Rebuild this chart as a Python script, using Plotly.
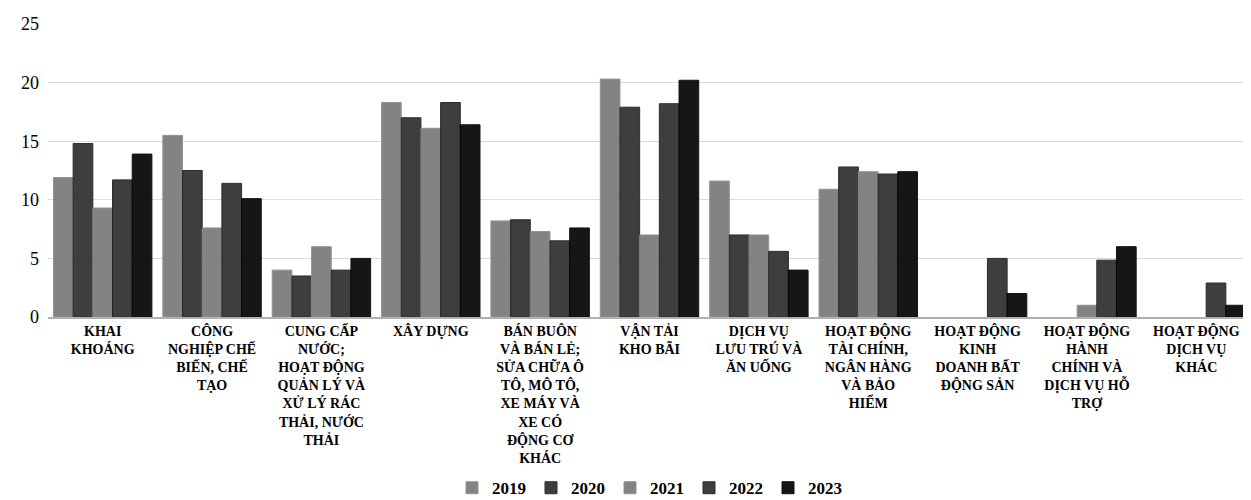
import plotly.graph_objects as go

categories = [
    "KHAI<br>KHOÁNG",
    "CÔNG<br>NGHIỆP CHẾ<br>BIẾN, CHẾ<br>TẠO",
    "CUNG CẤP<br>NƯỚC;<br>HOẠT ĐỘNG<br>QUẢN LÝ VÀ<br>XỬ LÝ RÁC<br>THẢI, NƯỚC<br>THẢI",
    "XÂY DỰNG",
    "BÁN BUÔN<br>VÀ BÁN LẺ;<br>SỬA CHỮA Ô<br>TÔ, MÔ TÔ,<br>XE MÁY VÀ<br>XE CÓ<br>ĐỘNG CƠ<br>KHÁC",
    "VẬN TẢI<br>KHO BÃI",
    "DỊCH VỤ<br>LƯU TRÚ VÀ<br>ĂN UỐNG",
    "HOẠT ĐỘNG<br>TÀI CHÍNH,<br>NGÂN HÀNG<br>VÀ BẢO<br>HIỂM",
    "HOẠT ĐỘNG<br>KINH<br>DOANH BẤT<br>ĐỘNG SẢN",
    "HOẠT ĐỘNG<br>HÀNH<br>CHÍNH VÀ<br>DỊCH VỤ HỖ<br>TRỢ",
    "HOẠT ĐỘNG<br>DỊCH VỤ<br>KHÁC",
]

years = ["2019", "2020", "2021", "2022", "2023"]

v2019 = [11.9, 15.5, 4.0, 18.3, 8.2, 20.3, 11.6, 10.9, None, None, None]
v2020 = [14.8, 12.5, 3.5, 17.0, 8.3, 17.9, 7.0, 12.8, None, None, None]
v2021 = [9.3, 7.6, 6.0, 16.1, 7.3, 7.0, 7.0, 12.4, None, 1.0, None]
v2022 = [11.7, 11.4, 4.0, 18.3, 6.5, 18.2, 5.6, 12.2, 5.0, 4.85, 2.9]
v2023 = [13.9, 10.1, 5.0, 16.4, 7.6, 20.2, 4.0, 12.4, 2.0, 6.0, 1.0]

series = [v2019, v2020, v2021, v2022, v2023]
colors = ["#7a7a7a", "#303030", "#7a7a7a", "#303030", "#050505"]
line_colors = ["#8c8c8c", "#1e1e1e", "#8c8c8c", "#1e1e1e", "#000000"]

fig = go.Figure()
for y, vals, c, lc in zip(years, series, colors, line_colors):
    fig.add_trace(go.Bar(
        name=y, x=categories, y=vals,
        marker=dict(color=c, line=dict(color=lc, width=1)),
        opacity=0.93,
    ))

serif = "Liberation Serif"

fig.update_layout(
    width=1243, height=492,
    margin=dict(l=40, r=0, t=16, b=183),
    paper_bgcolor="white", plot_bgcolor="white",
    barmode="group", bargap=0.1, bargroupgap=0,
    font=dict(family=serif, color="black"),
    showlegend=True,
    legend=dict(
        orientation="h", x=0.5, xanchor="center",
        yref="container", y=0.024, yanchor="middle",
        font=dict(family=serif, size=17, color="black", weight="bold"),
        itemwidth=30, traceorder="normal",
    ),
    xaxis=dict(
        tickfont=dict(family=serif, size=14, color="black", weight="bold"),
        showline=True, linecolor="#b0b0b0", linewidth=1.5,
        ticks="", tickangle=0, automargin=False,
    ),
    yaxis=dict(
        range=[0, 25], dtick=5,
        tickfont=dict(family=serif, size=18, color="black"),
        showgrid=True, gridcolor="#dcdcdc", gridwidth=1,
        zeroline=False, showline=False, ticks="",
        ticklabelstandoff=8, automargin=False,
    ),
)

fig.write_html("out.html")
